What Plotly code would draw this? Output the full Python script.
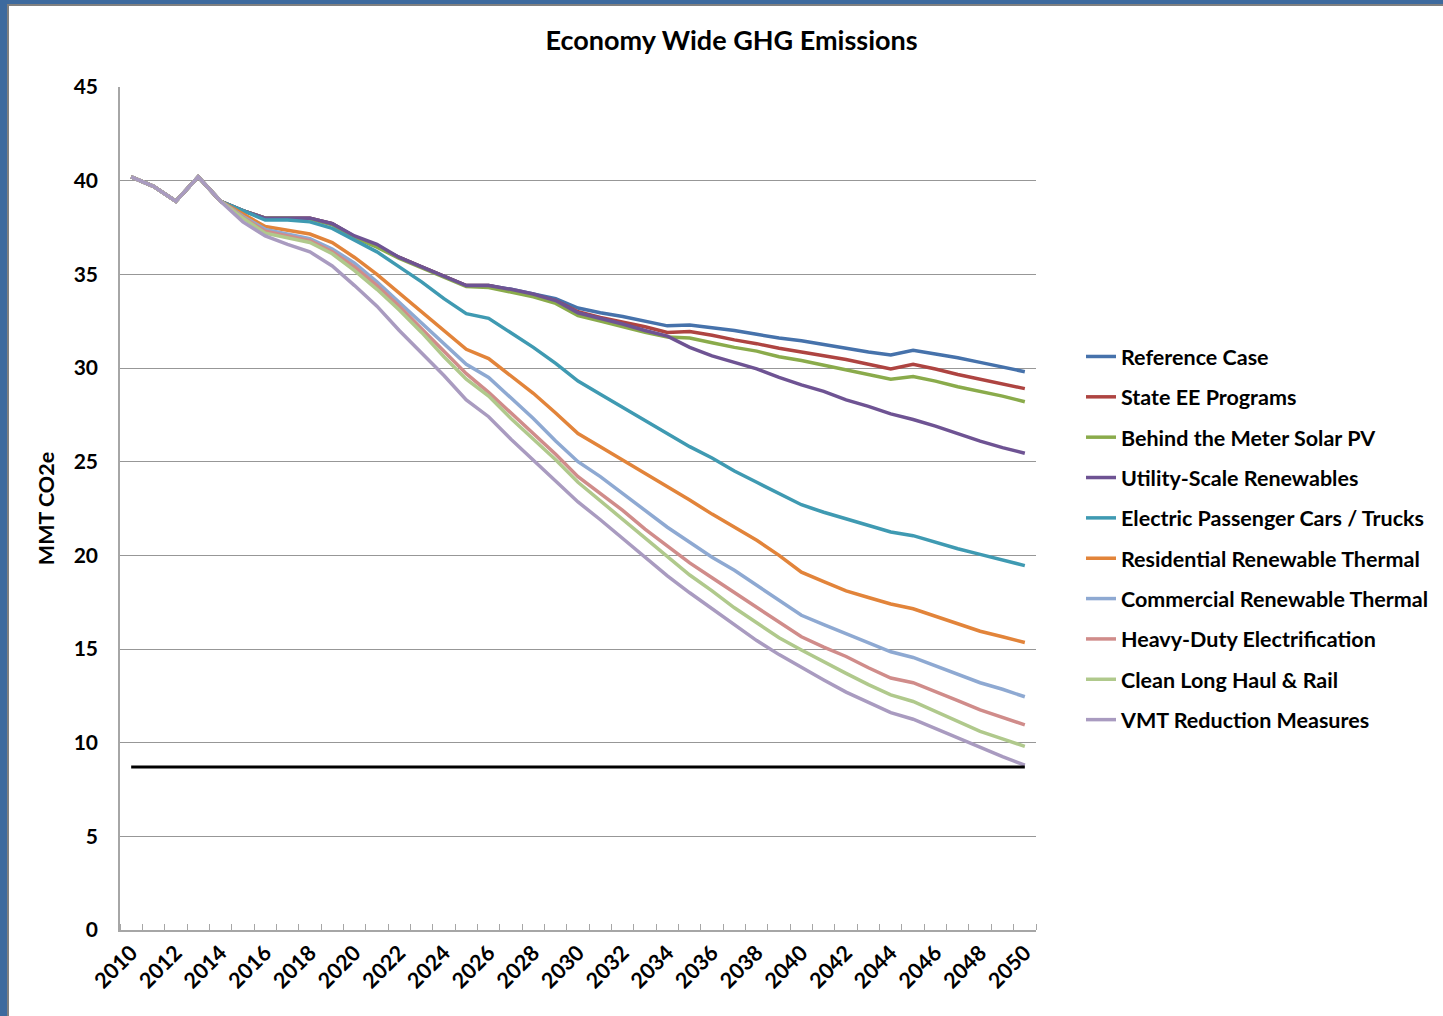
import plotly.graph_objects as go

years = list(range(2010, 2051))

common_start = [40.2, 39.7, 38.9, 40.2, 38.9]

reference_case = common_start + [38.4, 38.0, 38.0, 38.0, 37.7, 37.0, 36.5, 35.9, 35.4, 34.9, 34.4, 34.4, 34.2, 33.95, 33.7, 33.2,
                                 32.95, 32.75, 32.5, 32.25, 32.3, 32.15, 32.0, 31.8, 31.6, 31.45, 31.25, 31.05, 30.85, 30.7, 30.95,
                                 30.75, 30.55, 30.3, 30.05, 29.8]
state_ee = common_start + [38.4, 38.0, 38.0, 38.0, 37.7, 37.0, 36.5, 35.9, 35.4, 34.9, 34.4, 34.4, 34.15, 33.9, 33.6, 33.0,
                           32.7, 32.45, 32.2, 31.9, 31.95, 31.75, 31.5, 31.3, 31.05, 30.85, 30.65, 30.45, 30.2, 29.95, 30.2,
                           29.95, 29.65, 29.4, 29.15, 28.9]
solar_pv = common_start + [38.4, 38.0, 38.0, 37.95, 37.65, 36.95, 36.45, 35.85, 35.35, 34.85, 34.35, 34.3, 34.05, 33.8, 33.45, 32.8,
                           32.5, 32.2, 31.9, 31.65, 31.6, 31.35, 31.1, 30.9, 30.6, 30.4, 30.15, 29.9, 29.65, 29.4, 29.55,
                           29.3, 29.0, 28.75, 28.5, 28.2]
utility_scale = common_start + [38.4, 38.0, 38.0, 38.0, 37.7, 37.05, 36.6, 35.9, 35.4, 34.9, 34.4, 34.4, 34.2, 33.95, 33.6, 32.95,
                                32.65, 32.35, 32.0, 31.7, 31.1, 30.65, 30.3, 29.95, 29.5, 29.1, 28.75, 28.3, 27.95, 27.55, 27.25,
                                26.9, 26.5, 26.1, 25.75, 25.45]
electric_cars = common_start + [38.4, 37.9, 37.9, 37.8, 37.45, 36.8, 36.2, 35.4, 34.6, 33.7, 32.9, 32.65, 31.9, 31.1, 30.25, 29.3,
                                28.6, 27.9, 27.2, 26.5, 25.8, 25.2, 24.5, 23.9, 23.3, 22.7, 22.3, 21.95, 21.6, 21.25, 21.05,
                                20.7, 20.35, 20.05, 19.75, 19.45]
residential_thermal = common_start + [38.2, 37.55, 37.35, 37.15, 36.7, 35.9, 35.0, 34.0, 33.0, 32.0, 31.0, 30.5, 29.6, 28.65, 27.6, 26.5,
                                      25.8, 25.1, 24.4, 23.65, 22.95, 22.2, 21.5, 20.8, 20.0, 19.1, 18.6, 18.1, 17.75, 17.4, 17.15,
                                      16.75, 16.35, 15.95, 15.65, 15.35]
commercial_thermal = common_start + [38.1, 37.4, 37.15, 36.9, 36.35, 35.6, 34.6, 33.5, 32.4, 31.3, 30.2, 29.5, 28.4, 27.3, 26.1, 25.0,
                                     24.2, 23.3, 22.4, 21.5, 20.7, 19.9, 19.2, 18.4, 17.6, 16.8, 16.3, 15.8, 15.3, 14.85, 14.55,
                                     14.1, 13.65, 13.2, 12.85, 12.45]
heavy_duty = common_start + [38.05, 37.3, 37.05, 36.8, 36.2, 35.4, 34.4, 33.3, 32.1, 30.9, 29.7, 28.7, 27.6, 26.5, 25.4, 24.2,
                             23.3, 22.4, 21.4, 20.5, 19.6, 18.8, 18.0, 17.2, 16.4, 15.65, 15.1, 14.6, 14.0, 13.45, 13.2,
                             12.7, 12.25, 11.75, 11.35, 10.95]
long_haul_rail = common_start + [38.0, 37.2, 36.95, 36.7, 36.1, 35.2, 34.2, 33.1, 31.9, 30.6, 29.4, 28.5, 27.3, 26.2, 25.1, 23.9,
                                 22.9, 21.9, 20.9, 19.9, 18.95, 18.1, 17.2, 16.4, 15.6, 14.95, 14.3, 13.7, 13.1, 12.55, 12.2,
                                 11.65, 11.1, 10.6, 10.2, 9.8]
vmt_reduction = common_start + [37.8, 37.05, 36.6, 36.2, 35.45, 34.4, 33.3, 32.0, 30.8, 29.6, 28.3, 27.4, 26.2, 25.1, 24.0, 22.85,
                                21.9, 20.9, 19.9, 18.9, 18.0, 17.15, 16.3, 15.45, 14.7, 14.0, 13.35, 12.7, 12.15, 11.6, 11.25,
                                10.75, 10.25, 9.7, 9.25, 8.8]
target_level = [8.7] * len(years)

series_names = ["Reference Case", "State EE Programs", "Behind the Meter Solar PV", "Utility-Scale Renewables",
                "Electric Passenger Cars / Trucks", "Residential Renewable Thermal", "Commercial Renewable Thermal",
                "Heavy-Duty Electrification", "Clean Long Haul & Rail", "VMT Reduction Measures"]
series_values = [reference_case, state_ee, solar_pv, utility_scale, electric_cars, residential_thermal,
                 commercial_thermal, heavy_duty, long_haul_rail, vmt_reduction]
series_colors = ["#4672AB", "#AE4441", "#8AAB4B", "#6E5393", "#3F9AB2", "#E2843A",
                 "#8EA9D2", "#D08C8A", "#B0C98C", "#A99BC0"]

y_ticks = [0, 5, 10, 15, 20, 25, 30, 35, 40, 45]
x_tick_years = list(range(2010, 2051, 2))

FONT = "Lato"
W, H = 1443, 1016
L, R, T, B = 120, 1036, 87, 930

fig = go.Figure()
for name, vals, col in zip(series_names, series_values, series_colors):
    fig.add_trace(go.Scatter(x=years, y=vals, mode="lines", name="<b>" + name + "</b>", legendgroup=name,
                             line=dict(color=col, width=3.5)))
fig.add_trace(go.Scatter(x=years, y=target_level, mode="lines", showlegend=False,
                         line=dict(color="black", width=3)))


def px_x(p):
    return (p - L) / (R - L)


def px_y(p):
    return (B - p) / (B - T)


shapes = [
    dict(type="rect", xref="paper", yref="paper", x0=px_x(0), x1=px_x(7), y0=px_y(H), y1=px_y(0),
         fillcolor="#3D6A9E", line_width=0, layer="above"),
    dict(type="rect", xref="paper", yref="paper", x0=px_x(7), x1=px_x(9), y0=px_y(H), y1=px_y(4),
         fillcolor="#808080", line_width=0, layer="above"),
    dict(type="rect", xref="paper", yref="paper", x0=px_x(0), x1=px_x(W), y0=px_y(4), y1=px_y(0),
         fillcolor="#3D6A9E", line_width=0, layer="above"),
    dict(type="rect", xref="paper", yref="paper", x0=px_x(7), x1=px_x(W), y0=px_y(6), y1=px_y(4),
         fillcolor="#808080", line_width=0, layer="above"),
]

fig.update_layout(
    width=W, height=H,
    margin=dict(l=L, r=W - R, t=T, b=H - B, autoexpand=False),
    paper_bgcolor="white", plot_bgcolor="white",
    font=dict(family=FONT, color="black"),
    title=dict(text="<b>Economy Wide GHG Emissions</b>", x=0.507, xref="container", xanchor="center",
               y=1 - 41 / H, yref="container", yanchor="middle", font=dict(size=27, family=FONT)),
    showlegend=True,
    legend=dict(x=px_x(1081), y=px_y(336), xanchor="left", yanchor="top", xref="paper", yref="paper",
                font=dict(size=21.5, family=FONT), tracegroupgap=9.4, bgcolor="rgba(0,0,0,0)",
                itemwidth=30),
    shapes=shapes,
)

fig.update_xaxes(
    range=[2009.5, 2050.5], tickmode="array", tickvals=x_tick_years,
    ticktext=["<b>%d</b>" % y for y in x_tick_years],
    tickangle=-45, ticks="", tickfont=dict(size=21.5, family=FONT), showgrid=False, zeroline=False,
    showline=True, linecolor="#A6A6A6", linewidth=1.5,
    minor=dict(ticks="inside", tick0=2009.5, dtick=1, ticklen=6, tickcolor="#A6A6A6", tickwidth=1, showgrid=False),
)
fig.update_yaxes(
    range=[0, 45], tickmode="array", tickvals=y_ticks, ticktext=["<b>%d</b>" % v for v in y_ticks],
    tickfont=dict(size=21, family=FONT), ticks="", ticklabelstandoff=16,
    showgrid=True, gridcolor="#979797", gridwidth=1, zeroline=False,
    showline=True, linecolor="#A6A6A6", linewidth=1.5,
    title=dict(text="<b>MMT CO2e</b>", font=dict(size=21.5, family=FONT), standoff=13),
)

fig.write_html("out.html", config={"displayModeBar": False},
               post_script="document.body.style.margin='0px';")
